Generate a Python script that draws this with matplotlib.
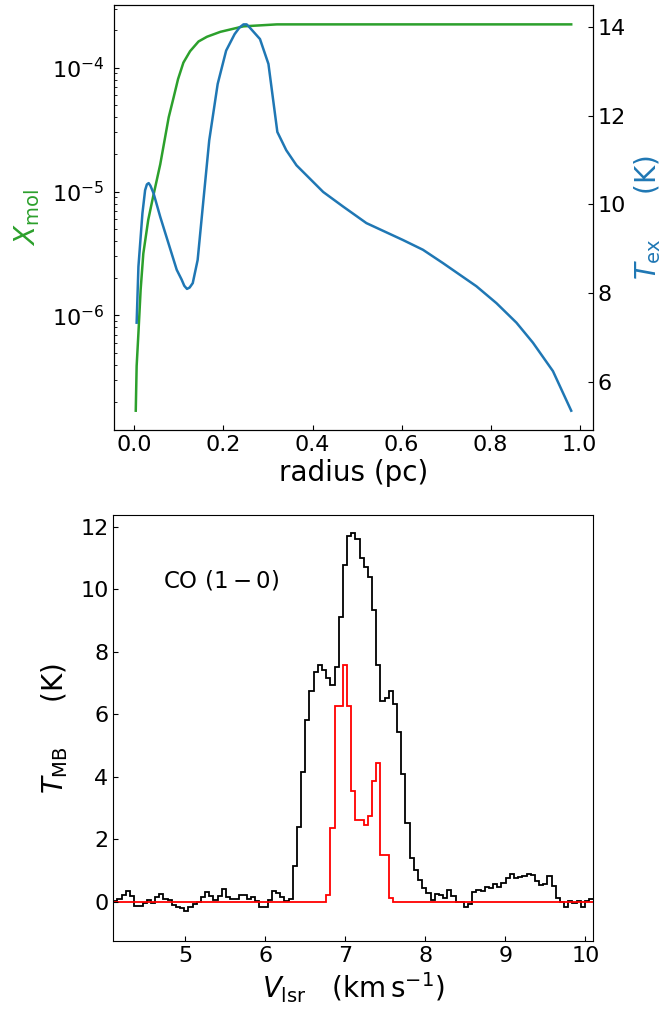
import numpy as np
import matplotlib
matplotlib.use("Agg")
import matplotlib.pyplot as plt

# --- top panel: abundance and excitation temperature vs radius ---
r_x = [0.003, 0.005, 0.009, 0.014, 0.020, 0.031, 0.042, 0.058, 0.077, 0.088,
       0.098, 0.110, 0.125, 0.144, 0.163, 0.193, 0.245, 0.320, 0.500, 0.700, 0.981]
x_mol = [1.70e-7, 3.9e-7, 7.2e-7, 1.62e-6, 3.16e-6, 5.9e-6, 9.1e-6, 1.66e-5, 3.98e-5, 5.75e-5,
         8.1e-5, 1.10e-4, 1.36e-4, 1.63e-4, 1.78e-4, 1.95e-4, 2.16e-4, 2.24e-4, 2.24e-4, 2.24e-4, 2.24e-4]

r_t = [0.005, 0.009, 0.018, 0.024, 0.028, 0.032, 0.036, 0.043, 0.058, 0.081,
       0.095, 0.106, 0.112, 0.118, 0.124, 0.131, 0.142, 0.155, 0.168, 0.187,
       0.206, 0.225, 0.236, 0.245, 0.252, 0.258, 0.282, 0.301, 0.321, 0.341,
       0.364, 0.394, 0.424, 0.469, 0.521, 0.603, 0.648, 0.693, 0.768, 0.813,
       0.858, 0.895, 0.940, 0.981]
t_ex = [7.34, 8.6, 9.8, 10.32, 10.45, 10.48, 10.42, 10.25, 9.72, 8.98,
        8.53, 8.31, 8.17, 8.10, 8.13, 8.23, 8.75, 10.1, 11.44, 12.71,
        13.46, 13.83, 13.98, 14.05, 14.05, 13.99, 13.72, 13.16, 11.63, 11.22,
        10.88, 10.58, 10.28, 9.95, 9.58, 9.20, 8.98, 8.68, 8.16, 7.78,
        7.34, 6.89, 6.25, 5.36]

# --- bottom panel: CO (1-0) spectrum, observed (black) and model (red) ---
v_start = 4.104
dv = 0.05214
t_obs = [0.02, 0.08, 0.21, 0.35, 0.18, -0.14, -0.14, -0.05, 0.05, -0.03,
         0.16, 0.25, 0.08, 0.05, -0.10, -0.16, -0.21, -0.30, -0.16, -0.07,
         0.00, 0.14, 0.32, 0.18, 0.05, 0.18, 0.40, 0.16, 0.10, 0.08,
         0.21, 0.21, 0.10, 0.16, 0.03, -0.18, -0.18, 0.05, 0.35, 0.29,
         0.16, 0.03, 0.10, 1.15, 2.40, 4.15, 5.80, 6.74, 7.36, 7.57,
         7.43, 7.17, 6.95, 7.50, 9.10, 10.77, 11.71, 11.79, 11.60, 11.00,
         10.70, 10.40, 9.35, 7.59, 6.42, 6.52, 6.76, 6.34, 5.43, 4.08,
         2.53, 1.39, 1.02, 0.70, 0.43, 0.27, 0.05, 0.25, 0.20, 0.12,
         0.37, 0.18, 0.00, 0.00, -0.16, -0.09, 0.32, 0.36, 0.34, 0.48,
         0.43, 0.55, 0.48, 0.59, 0.75, 0.88, 0.76, 0.78, 0.83, 0.87,
         0.85, 0.65, 0.52, 0.56, 0.83, 0.50, 0.12, 0.00, -0.16, 0.02,
         -0.05, 0.02, -0.16, 0.03, 0.10]
t_mod = [0.0] * 51 + [0.21, 2.35, 6.26, 6.26, 7.57, 6.26, 3.53, 2.62, 2.62,
                      2.46, 2.73, 3.85, 4.44, 1.48, 1.48, 0.13] + [0.0] * 48

v_edges = v_start + dv * np.arange(len(t_obs) + 1)

fig = plt.figure(figsize=(6.65, 10.13), dpi=100)

# top
ax1 = fig.add_axes([0.1714, 0.5755, 0.7203, 0.4195])
ax1.plot(r_x, x_mol, color="tab:green", lw=1.8)
ax1.set_yscale("log")
ax1.set_xlabel("radius (pc)", fontsize=20, labelpad=3)
ax1.set_ylabel(r"$X_{\rm mol}$", fontsize=20, color="tab:green", labelpad=7)
ax1.set_xticks([0.0, 0.2, 0.4, 0.6, 0.8, 1.0])
ax1.tick_params(which="both", direction="in", labelsize=16)
ax1.tick_params(axis="y", which="both", pad=7)

ax2 = ax1.twinx()
ax2.plot(r_t, t_ex, color="tab:blue", lw=1.8)
ax2.set_ylabel(r"$T_{\rm ex}$     (K)", fontsize=20, color="tab:blue")
ax2.set_yticks([6, 8, 10, 12, 14])
ax2.tick_params(which="both", direction="in", labelsize=16)

# bottom
ax3 = fig.add_axes([0.1704, 0.0711, 0.7218, 0.4205])
ax3.stairs(t_obs, v_edges, baseline=None, color="black", lw=1.3)
ax3.stairs(t_mod, v_edges, baseline=None, color="red", lw=1.3)
ax3.set_xlim(4.104, 10.1)
ax3.set_ylim(-1.26, 12.38)
ax3.set_xticks([5, 6, 7, 8, 9, 10])
ax3.set_yticks([0, 2, 4, 6, 8, 10, 12])
ax3.tick_params(direction="in", labelsize=16)
ax3.set_xlabel(r"$V_{\rm lsr}$   (km$\,$s$^{-1}$)", fontsize=20, labelpad=3)
ax3.set_ylabel(r"$T_{\rm MB}$     (K)", fontsize=20, labelpad=7)
ax3.text(0.103, 0.847, r"CO $(1-0)$", transform=ax3.transAxes,
         fontsize=16.5, va="center")

plt.savefig("out.png", dpi=100)
